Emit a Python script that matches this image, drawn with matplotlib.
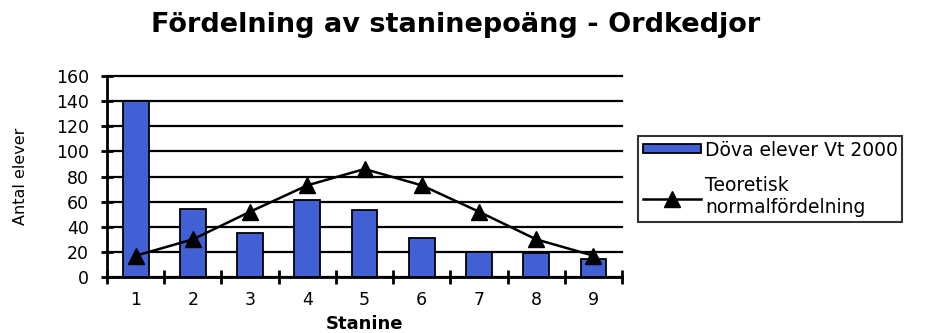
import matplotlib.pyplot as plt
from matplotlib.ticker import FixedLocator

stanine = [1, 2, 3, 4, 5, 6, 7, 8, 9]
elever = [140, 54, 35, 61, 53, 31, 20, 19, 14]
teoretisk = [17, 30, 52, 73, 86, 73, 52, 30, 17]

plt.rcParams['font.family'] = ['DejaVu Sans']

fig = plt.figure(figsize=(9.25, 3.33), dpi=100)
ax = fig.add_axes([0.1157, 0.168, 0.5568, 0.6036])

bars = ax.bar(stanine, elever, width=0.45, color="#4160d4", edgecolor="black",
              linewidth=1.3, label="Döva elever Vt 2000", zorder=3)
line, = ax.plot(stanine, teoretisk, color="black", linewidth=1.8, marker="^",
                markersize=11, label="Teoretisk\nnormalfördelning", zorder=4)

ax.set_xlim(0.5, 9.5)
ax.set_ylim(0, 160)
ax.set_yticks(range(0, 161, 20))
ax.yaxis.grid(True, color="black", linewidth=1.6)
ax.set_axisbelow(True)
for gl in ax.get_ygridlines():
    gl.set_clip_on(False)

ax.set_xticks(stanine)
ax.xaxis.set_minor_locator(FixedLocator([x + 0.5 for x in range(0, 10)]))
ax.tick_params(axis="x", which="major", length=0, pad=10, labelsize=12.5)
ax.tick_params(axis="x", which="minor", length=10, width=2, direction="inout")
ax.tick_params(axis="y", length=8, width=2, direction="inout", labelsize=12.5, pad=9)

for side in ["top", "right"]:
    ax.spines[side].set_visible(False)
for side in ["left", "bottom"]:
    ax.spines[side].set_linewidth(2)

ax.set_xlabel("Stanine", fontweight="bold", fontsize=13, labelpad=4)
ax.set_ylabel("Antal elever", fontsize=11.5, labelpad=20)

fig.suptitle("Fördelning av staninepoäng - Ordkedjor", fontweight="bold",
             fontsize=19.5, x=0.493, y=0.965)

leg = fig.legend(handles=[bars, line], loc="upper left", bbox_to_anchor=(0.69, 0.592),
                 fontsize=13.5, frameon=True, fancybox=False, borderpad=0.25,
                 handlelength=3.1, handleheight=0.35, handletextpad=0.2,
                 labelspacing=0.9, borderaxespad=0)
leg.get_frame().set_edgecolor("black")
leg.get_frame().set_linewidth(1.5)

fig.savefig("out.png", dpi=100)
